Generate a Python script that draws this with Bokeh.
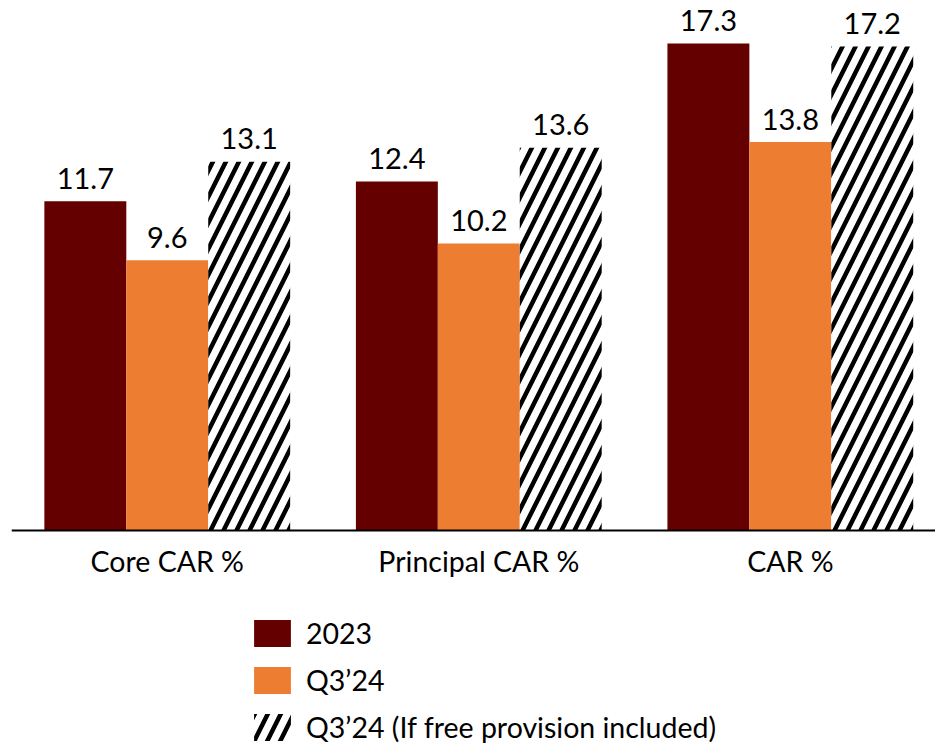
import numpy as np
from bokeh.plotting import figure
from bokeh.models import (ColumnDataSource, Range1d, Legend, LegendItem, Span)
from bokeh.core.properties import value
from bokeh.embed import file_html
from bokeh.resources import INLINE

categories = ["Core CAR %", "Principal CAR %", "CAR %"]
series_names = ["2023", "Q3\u201924", "Q3\u201924 (If free provision included)"]
v_2023 = [11.7, 12.4, 17.3]
v_q3 = [9.6, 10.2, 13.8]
v_q3_free = [13.1, 13.6, 17.2]

FONT = "Lato"
FS = "29px"
bar_w = 0.263
xpos = np.arange(len(categories)) + 0.5

p = figure(width=935, height=744, output_backend="svg", toolbar_location=None,
           x_range=Range1d(0, 2.966), y_range=Range1d(-7.60, 18.51),
           min_border_left=11, min_border_right=0, min_border_top=9,
           min_border_bottom=0)
p.outline_line_color = None
p.grid.visible = False
p.axis.visible = False
p.background_fill_color = "white"
p.border_fill_color = "white"

# x axis line at zero
p.add_layout(Span(location=0, dimension="width", line_color="black", line_width=2))

# category labels
cat_src = ColumnDataSource(dict(x=xpos, y=[0] * len(categories), label=categories))
p.text(x="x", y="y", text="label", source=cat_src, text_align="center",
       text_baseline="middle", y_offset=30, text_font=value(FONT),
       text_font_size="28.5px", text_color="black")

styles = [
    dict(fill_color="#640000"),
    dict(fill_color="#ED7D31"),
    dict(fill_color="white", hatch_pattern="/", hatch_color="black",
         hatch_scale=26, hatch_weight=4.5),
]
series = [v_2023, v_q3, v_q3_free]
offsets = [-bar_w, 0.0, bar_w]
renderers = []
for vals, off, st in zip(series, offsets, styles):
    src = ColumnDataSource(dict(x=xpos + off, top=vals,
                                label=[f"{v:.1f}" for v in vals]))
    r = p.vbar(x="x", top="top", width=bar_w, bottom=0, source=src,
               line_color=None, **st)
    renderers.append(r)
    p.text(x="x", y="top", text="label", source=src, text_align="center",
           text_baseline="middle", y_offset=-23, text_font=value(FONT),
           text_font_size=FS, text_color="black")

legend = Legend(items=[LegendItem(label=n, renderers=[r]) for n, r in zip(series_names, renderers)],
                orientation="vertical", location=(238, 0),
                glyph_width=46, glyph_height=34, spacing=13,
                label_text_font=FONT, label_text_font_size="28.5px",
                label_text_color="black", label_standoff=11,
                padding=0, margin=0, border_line_color=None,
                background_fill_alpha=0)
p.add_layout(legend, "center")

open("out.html", "w").write(file_html(p, INLINE))
